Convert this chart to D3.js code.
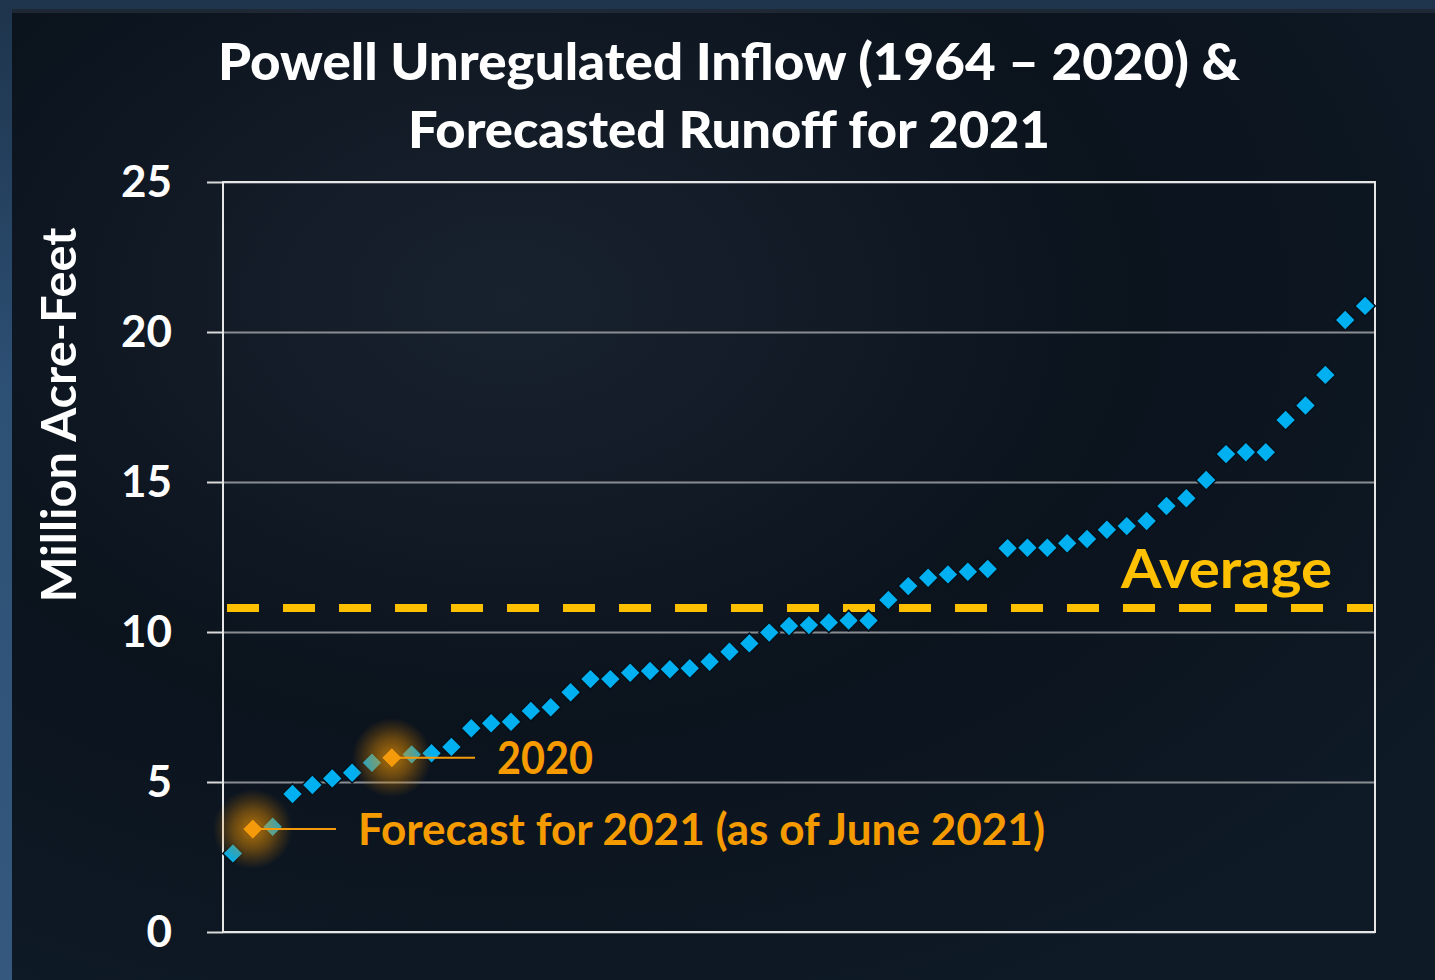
<!DOCTYPE html>
<html>
<head>
<meta charset="utf-8">
<script src="https://cdn.jsdelivr.net/npm/d3@7"></script>
<style>
  html, body { margin: 0; padding: 0; background: #0c141e; }
  svg { display: block; }
</style>
</head>
<body>
<svg id="chart" width="1435" height="980"></svg>
<script>
// ---- Data ----
// Annual unregulated inflow to Lake Powell, sorted ascending (million acre-feet)
const values = [
  2.62, 3.43, 3.51, 4.60, 4.90, 5.12, 5.31, 5.64, 5.81, 5.92,
  5.96, 6.17, 6.79, 6.96, 7.01, 7.37, 7.49, 7.99, 8.43, 8.43,
  8.64, 8.70, 8.76, 8.79, 9.01, 9.34, 9.62, 9.98, 10.20, 10.23,
  10.32, 10.38, 10.38, 11.07, 11.53, 11.81, 11.92, 12.01, 12.10, 12.79,
  12.81, 12.81, 12.96, 13.10, 13.41, 13.53, 13.70, 14.20, 14.46, 15.07,
  15.93, 15.99, 15.99, 17.07, 17.55, 18.57, 20.40, 20.87
];
const ranks = values.map((v, i) => i + 1);
const yTicks = [0, 5, 10, 15, 20, 25];
const averageValue = 10.8;
const highlights = [
  { index: 1, label: "Forecast for 2021 (as of June 2021)" },
  { index: 8, label: "2020" }
];
const titleLines = ["Powell Unregulated Inflow (1964 \u2013 2020) &", "Forecasted Runoff for 2021"];
const yTitle = "Million Acre-Feet";
const averageLabel = "Average";

// ---- Layout ----
const svg = d3.select("#chart");
const W = 1435, H = 980;
const pLeft = 223, pRight = 1375, pTop = 182, pBottom = 932;
const FONT = "Lato, 'Open Sans', 'DejaVu Sans', sans-serif";

const defs = svg.append("defs");
const bgGrad = defs.append("radialGradient").attr("id", "bg")
  .attr("cx", "35%").attr("cy", "30%").attr("r", "80%");
bgGrad.append("stop").attr("offset", "0%").attr("stop-color", "#18222e");
bgGrad.append("stop").attr("offset", "55%").attr("stop-color", "#0b131d");
bgGrad.append("stop").attr("offset", "100%").attr("stop-color", "#0e1a26");

const edgeGrad = defs.append("linearGradient").attr("id", "edge")
  .attr("x1", 0).attr("x2", 0).attr("y1", 0).attr("y2", 1);
edgeGrad.append("stop").attr("offset", "0%").attr("stop-color", "#1e344c");
edgeGrad.append("stop").attr("offset", "40%").attr("stop-color", "#2d5075");
edgeGrad.append("stop").attr("offset", "100%").attr("stop-color", "#35597e");

const glow = defs.append("radialGradient").attr("id", "glow");
glow.append("stop").attr("offset", "0%").attr("stop-color", "#ffa000").attr("stop-opacity", 0.7);
glow.append("stop").attr("offset", "50%").attr("stop-color", "#e08a00").attr("stop-opacity", 0.42);
glow.append("stop").attr("offset", "100%").attr("stop-color", "#c07000").attr("stop-opacity", 0);

svg.append("rect").attr("width", W).attr("height", H).attr("fill", "url(#edge)");
svg.append("rect").attr("x", 12).attr("y", 9).attr("width", W - 12).attr("height", H - 9).attr("fill", "url(#bg)");
svg.append("rect").attr("x", 12).attr("y", 9).attr("width", W - 12).attr("height", 4).attr("fill", "#26313d").attr("opacity", 0.7);

// ---- Scales ----
const x = d3.scaleBand().domain(ranks).range([pLeft, pRight]).padding(0);
const y = d3.scaleLinear().domain([0, 25]).range([pBottom, pTop]);
const cx = i => x(ranks[i]) + x.bandwidth() / 2;

// ---- Gridlines ----
const grid = svg.append("g").attr("transform", `translate(${pLeft},0)`)
  .call(d3.axisLeft(y).tickValues(yTicks).tickSize(-(pRight - pLeft)).tickFormat(""));
grid.select(".domain").remove();
grid.selectAll(".tick line").attr("stroke", "#8a8d91").attr("stroke-width", 2);

// ---- Left axis with ticks and labels ----
const axis = svg.append("g").attr("transform", `translate(${pLeft},0)`)
  .call(d3.axisLeft(y).tickValues(yTicks).tickSize(16).tickPadding(35));
axis.select(".domain").remove();
axis.selectAll(".tick line").attr("stroke", "#d9d9d9").attr("stroke-width", 2);
axis.selectAll(".tick text")
  .attr("fill", "#ffffff").attr("font-family", FONT).attr("font-weight", 700)
  .attr("font-size", 44);

// plot border
svg.append("rect").attr("x", pLeft).attr("y", pTop)
  .attr("width", pRight - pLeft).attr("height", pBottom - pTop)
  .attr("fill", "none").attr("stroke", "#e6e6e6").attr("stroke-width", 2);

// ---- Average line ----
svg.append("line")
  .attr("x1", pLeft + 4).attr("x2", pRight - 2)
  .attr("y1", y(averageValue)).attr("y2", y(averageValue))
  .attr("stroke", "#ffc000").attr("stroke-width", 8)
  .attr("stroke-dasharray", "32 24");

// ---- Markers ----
const diamond = d3.symbol().type(d3.symbolSquare).size(210);
svg.append("g").selectAll("path").data(values).join("path")
  .attr("d", diamond)
  .attr("transform", (d, i) => `translate(${cx(i)},${y(d)}) rotate(45)`)
  .attr("fill", "#00b0f0").attr("stroke", "#05121c").attr("stroke-width", 1.5);

// glows
svg.append("g").selectAll("circle").data(highlights).join("circle")
  .attr("cx", h => cx(h.index)).attr("cy", h => y(values[h.index]))
  .attr("r", 40).attr("fill", "url(#glow)");

// highlighted markers
svg.append("g").selectAll("path").data(highlights).join("path")
  .attr("d", diamond)
  .attr("transform", h => `translate(${cx(h.index)},${y(values[h.index])}) rotate(45)`)
  .attr("fill", "#f59a0a").attr("stroke", "#8a5a10").attr("stroke-width", 1);

// leader lines + labels
const leaderEnd = [336, 475];
const labelX = [358, 497];
const labelSize = [44, 45];
const labelLen = [687, 96];
highlights.forEach((h, k) => {
  const py = y(values[h.index]);
  svg.append("line").attr("x1", cx(h.index)).attr("x2", leaderEnd[k])
    .attr("y1", py).attr("y2", py)
    .attr("stroke", "#f59a0a").attr("stroke-width", 2);
  svg.append("text").attr("x", labelX[k]).attr("y", py + 16)
    .attr("fill", "#f59b00").attr("font-family", FONT).attr("font-weight", 700)
    .attr("font-size", labelSize[k])
    .attr("textLength", labelLen[k]).attr("lengthAdjust", "spacingAndGlyphs")
    .text(h.label);
});

// Average label
svg.append("text").attr("x", 1121).attr("y", 588)
  .attr("fill", "#ffc000").attr("font-family", FONT).attr("font-weight", 700)
  .attr("font-size", 54).attr("textLength", 211).attr("lengthAdjust", "spacingAndGlyphs")
  .text(averageLabel);

// ---- Title ----
const titleLen = [1022, 642];
const titleY = [80, 148];
titleLines.forEach((t, k) => {
  svg.append("text").attr("x", 729).attr("y", titleY[k])
    .attr("text-anchor", "middle")
    .attr("fill", "#ffffff").attr("font-family", FONT).attr("font-weight", 900)
    .attr("font-size", 52)
    .attr("textLength", titleLen[k]).attr("lengthAdjust", "spacingAndGlyphs")
    .text(t);
});

// ---- Y title ----
svg.append("text")
  .attr("transform", `translate(76,415) rotate(-90)`)
  .attr("text-anchor", "middle")
  .attr("fill", "#ffffff").attr("font-family", FONT).attr("font-weight", 700)
  .attr("font-size", 48)
  .attr("textLength", 375).attr("lengthAdjust", "spacingAndGlyphs")
  .text(yTitle);
</script>
</body>
</html>
